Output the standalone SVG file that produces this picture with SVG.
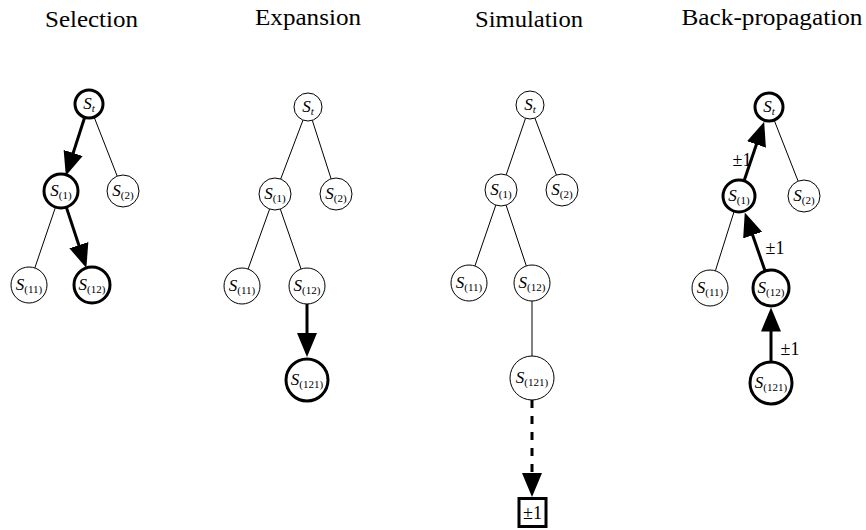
<svg xmlns="http://www.w3.org/2000/svg" width="866" height="530" viewBox="0 0 866 530">
<style>
.title{font-family:"Liberation Serif",serif;font-size:24px;fill:#000;text-anchor:middle}
.lbl{font-family:"Liberation Serif",serif;font-size:17px;fill:#000;text-anchor:middle}
.lbl .s{font-style:italic}
.lbl .sub{font-size:11px}
.lbl .subi{font-size:11px;font-style:italic}
.pm{font-family:"Liberation Serif",serif;font-size:18px;fill:#000;text-anchor:middle}
.n{fill:#fff;stroke:#000;stroke-width:1}
.nb{fill:#fff;stroke:#000;stroke-width:3}
.e{stroke:#000;stroke-width:1;fill:none}
.eb{stroke:#000;stroke-width:3;fill:none;marker-end:url(#ah)}
.ed{stroke:#000;stroke-width:3;fill:none;stroke-dasharray:8 8;marker-end:url(#ah)}
</style>
<defs>
<marker id="ah" markerUnits="userSpaceOnUse" markerWidth="24" markerHeight="20" refX="12" refY="10" orient="auto">
<path d="M0,0 L24,10 L0,20 z" fill="#000"/>
</marker>
</defs>
<rect width="866" height="530" fill="#fff"/>
<text class="title" x="91.5" y="27" textLength="93" lengthAdjust="spacingAndGlyphs">Selection</text>
<text class="title" x="308" y="25" textLength="106" lengthAdjust="spacingAndGlyphs">Expansion</text>
<text class="title" x="529" y="27" textLength="108" lengthAdjust="spacingAndGlyphs">Simulation</text>
<text class="title" x="772" y="25" textLength="181" lengthAdjust="spacingAndGlyphs">Back-propagation</text>

<g id="connectors">
<!-- Selection -->
<line class="eb" x1="84.7" y1="117.3" x2="69.5" y2="164.4"/>
<line class="e" x1="94.1" y1="117.0" x2="117.2" y2="176.1"/>
<line class="e" x1="55.5" y1="207.1" x2="34.8" y2="268"/>
<line class="eb" x1="66.3" y1="207.1" x2="82.6" y2="256.5"/>
<!-- Expansion -->
<line class="e" x1="303.0" y1="120.1" x2="280.7" y2="179.0"/>
<line class="e" x1="312.3" y1="120.3" x2="331.1" y2="178.8"/>
<line class="e" x1="269.6" y1="209.1" x2="248.1" y2="269"/>
<line class="e" x1="280.3" y1="209.1" x2="301.1" y2="269"/>
<line class="eb" x1="307" y1="304" x2="307" y2="345"/>
<!-- Simulation -->
<line class="e" x1="525.5" y1="118.3" x2="506.2" y2="174.8"/>
<line class="e" x1="534.9" y1="118.1" x2="556.4" y2="175"/>
<line class="e" x1="495.8" y1="205.1" x2="474.9" y2="266"/>
<line class="e" x1="506.1" y1="205.2" x2="526.3" y2="265.9"/>
<line class="e" x1="532" y1="301" x2="532" y2="356"/>
<line class="ed" x1="532" y1="400" x2="532" y2="485"/>
<!-- Back-propagation -->
<line class="eb" x1="744.1" y1="180.8" x2="760.3" y2="133.1"/>
<line class="e" x1="774.1" y1="120.0" x2="798.1" y2="181.1"/>
<line class="e" x1="734.2" y1="211.2" x2="715.4" y2="270.8"/>
<line class="eb" x1="765.1" y1="271" x2="748.7" y2="223.8"/>
<line class="eb" x1="771" y1="362" x2="771" y2="319.5"/>
<text class="pm" x="742" y="166">±1</text>
<text class="pm" x="775" y="254">±1</text>
<text class="pm" x="790" y="355">±1</text>
</g>

<!-- Selection nodes -->
<g id="sel-St"><circle class="nb" cx="89" cy="104" r="14"/><text class="lbl" x="89" y="109"><tspan class="s">S</tspan><tspan class="subi" dy="3">t</tspan></text></g>
<g id="sel-S1"><circle class="nb" cx="61" cy="191" r="17"/><text class="lbl" x="61" y="196"><tspan class="s">S</tspan><tspan class="sub" dy="3">(1)</tspan></text></g>
<g id="sel-S2"><circle class="n" cx="123" cy="191" r="16"/><text class="lbl" x="123" y="196"><tspan class="s">S</tspan><tspan class="sub" dy="3">(2)</tspan></text></g>
<g id="sel-S11"><circle class="n" cx="29" cy="285" r="18"/><text class="lbl" x="29" y="290"><tspan class="s">S</tspan><tspan class="sub" dy="3">(11)</tspan></text></g>
<g id="sel-S12"><circle class="nb" cx="92" cy="285" r="18"/><text class="lbl" x="92" y="290"><tspan class="s">S</tspan><tspan class="sub" dy="3">(12)</tspan></text></g>

<!-- Expansion nodes -->
<g id="exp-St"><circle class="n" cx="308" cy="107" r="14"/><text class="lbl" x="308" y="112"><tspan class="s">S</tspan><tspan class="subi" dy="3">t</tspan></text></g>
<g id="exp-S1"><circle class="n" cx="275" cy="194" r="16"/><text class="lbl" x="275" y="199"><tspan class="s">S</tspan><tspan class="sub" dy="3">(1)</tspan></text></g>
<g id="exp-S2"><circle class="n" cx="336" cy="194" r="16"/><text class="lbl" x="336" y="199"><tspan class="s">S</tspan><tspan class="sub" dy="3">(2)</tspan></text></g>
<g id="exp-S11"><circle class="n" cx="242" cy="286" r="18"/><text class="lbl" x="242" y="291"><tspan class="s">S</tspan><tspan class="sub" dy="3">(11)</tspan></text></g>
<g id="exp-S12"><circle class="n" cx="307" cy="286" r="18"/><text class="lbl" x="307" y="291"><tspan class="s">S</tspan><tspan class="sub" dy="3">(12)</tspan></text></g>
<g id="exp-S121"><circle class="nb" cx="307" cy="380" r="21"/><text class="lbl" x="307" y="385"><tspan class="s">S</tspan><tspan class="sub" dy="3">(121)</tspan></text></g>

<!-- Simulation nodes -->
<g id="sim-St"><circle class="n" cx="530" cy="105" r="14"/><text class="lbl" x="530" y="110"><tspan class="s">S</tspan><tspan class="subi" dy="3">t</tspan></text></g>
<g id="sim-S1"><circle class="n" cx="501" cy="190" r="16"/><text class="lbl" x="501" y="195"><tspan class="s">S</tspan><tspan class="sub" dy="3">(1)</tspan></text></g>
<g id="sim-S2"><circle class="n" cx="562" cy="190" r="16"/><text class="lbl" x="562" y="195"><tspan class="s">S</tspan><tspan class="sub" dy="3">(2)</tspan></text></g>
<g id="sim-S11"><circle class="n" cx="469" cy="283" r="18"/><text class="lbl" x="469" y="288"><tspan class="s">S</tspan><tspan class="sub" dy="3">(11)</tspan></text></g>
<g id="sim-S12"><circle class="n" cx="532" cy="283" r="18"/><text class="lbl" x="532" y="288"><tspan class="s">S</tspan><tspan class="sub" dy="3">(12)</tspan></text></g>
<g id="sim-S121"><circle class="n" cx="532" cy="378" r="22"/><text class="lbl" x="532" y="383"><tspan class="s">S</tspan><tspan class="sub" dy="3">(121)</tspan></text></g>
<g id="sim-result"><rect x="519" y="498.5" width="27" height="28" fill="#fff" stroke="#000" stroke-width="3"/><text class="pm" x="532.5" y="518.5">±1</text></g>

<!-- Back-propagation nodes -->
<g id="bp-St"><circle class="nb" cx="769" cy="107" r="14"/><text class="lbl" x="769" y="112"><tspan class="s">S</tspan><tspan class="subi" dy="3">t</tspan></text></g>
<g id="bp-S1"><circle class="nb" cx="739" cy="196" r="16"/><text class="lbl" x="739" y="201"><tspan class="s">S</tspan><tspan class="sub" dy="3">(1)</tspan></text></g>
<g id="bp-S2"><circle class="n" cx="804" cy="196" r="16"/><text class="lbl" x="804" y="201"><tspan class="s">S</tspan><tspan class="sub" dy="3">(2)</tspan></text></g>
<g id="bp-S11"><circle class="n" cx="710" cy="288" r="18"/><text class="lbl" x="710" y="293"><tspan class="s">S</tspan><tspan class="sub" dy="3">(11)</tspan></text></g>
<g id="bp-S12"><circle class="nb" cx="771" cy="288" r="18"/><text class="lbl" x="771" y="293"><tspan class="s">S</tspan><tspan class="sub" dy="3">(12)</tspan></text></g>
<g id="bp-S121"><circle class="nb" cx="771" cy="383" r="21"/><text class="lbl" x="771" y="388"><tspan class="s">S</tspan><tspan class="sub" dy="3">(121)</tspan></text></g>
</svg>
